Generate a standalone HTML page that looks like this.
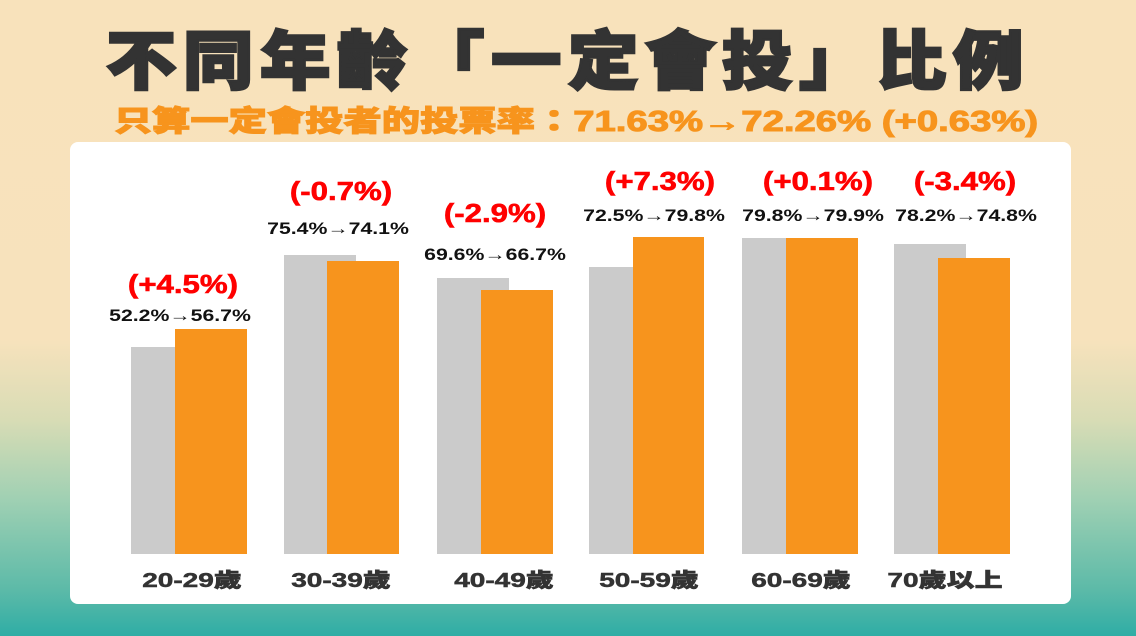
<!DOCTYPE html>
<html><head><meta charset="utf-8"><style>
*{margin:0;padding:0;box-sizing:border-box}
body{width:1136px;height:636px;overflow:hidden;position:relative;
background:linear-gradient(to bottom,#f8e2bb 0px,#f7e2bc 340px,#d8dcb5 420px,#9fd0b3 500px,#5cbaa8 590px,#2fada5 636px);
font-family:"Liberation Sans","Noto Sans CJK TC",sans-serif}
.t{position:absolute;white-space:nowrap;text-align:center;transform-origin:center}
.title{left:0;width:1136px;top:22px;font-size:64px;font-weight:900;color:#333;letter-spacing:6px;line-height:80px;-webkit-text-stroke:2.5px #333;transform:scaleX(1.1)}
.sub{left:0;width:1136px;top:104px;font-size:29px;font-weight:900;color:#f7941d;line-height:36px;-webkit-text-stroke:1px #f7941d;transform:translateX(8px) scaleX(1.32)}
.card{position:absolute;left:70px;top:142px;width:1001px;height:462px;background:#fff;border-radius:8px}
.b{position:absolute}
.g{background:#cbcbcb}.o{background:#f7941d}
.v{font-size:17px;font-weight:bold;color:#111;width:200px;transform:scaleX(1.25)}
.r{font-size:26px;font-weight:900;color:#f00;width:200px;transform:scaleX(1.2);-webkit-text-stroke:0.6px #f00}
.c{font-size:20px;font-weight:900;color:#333;width:200px;top:564px;transform:scaleX(1.4);-webkit-text-stroke:0.5px #333}
</style></head><body>
<div class="t title">不同年齡「一定會投」比例</div>
<div class="t sub">只算一定會投者的投票率：71.63%→72.26% (+0.63%)</div>
<div class="card"></div>

<div class="b g" style="left:131px;top:347px;width:72px;height:207px"></div>
<div class="b o" style="left:175px;top:329px;width:72px;height:225px"></div>
<div class="b g" style="left:284px;top:255px;width:72px;height:299px"></div>
<div class="b o" style="left:327px;top:261px;width:72px;height:293px"></div>
<div class="b g" style="left:437px;top:278px;width:72px;height:276px"></div>
<div class="b o" style="left:481px;top:290px;width:72px;height:264px"></div>
<div class="b g" style="left:589px;top:267px;width:72px;height:287px"></div>
<div class="b o" style="left:633px;top:237px;width:71px;height:317px"></div>
<div class="b g" style="left:742px;top:238px;width:72px;height:316px"></div>
<div class="b o" style="left:786px;top:238px;width:72px;height:316px"></div>
<div class="b g" style="left:894px;top:244px;width:72px;height:310px"></div>
<div class="b o" style="left:938px;top:258px;width:72px;height:296px"></div>

<div class="t r" style="left:83px;top:269px">(+4.5%)</div>
<div class="t v" style="left:80px;top:306px">52.2%→56.7%</div>
<div class="t r" style="left:241px;top:176px">(-0.7%)</div>
<div class="t v" style="left:238px;top:219px">75.4%→74.1%</div>
<div class="t r" style="left:395px;top:198px">(-2.9%)</div>
<div class="t v" style="left:395px;top:245px">69.6%→66.7%</div>
<div class="t r" style="left:560px;top:166px">(+7.3%)</div>
<div class="t v" style="left:554px;top:206px">72.5%→79.8%</div>
<div class="t r" style="left:718px;top:166px">(+0.1%)</div>
<div class="t v" style="left:713px;top:206px">79.8%→79.9%</div>
<div class="t r" style="left:865px;top:166px">(-3.4%)</div>
<div class="t v" style="left:866px;top:206px">78.2%→74.8%</div>

<div class="t c" style="left:92px">20-29歲</div>
<div class="t c" style="left:241px">30-39歲</div>
<div class="t c" style="left:404px">40-49歲</div>
<div class="t c" style="left:549px">50-59歲</div>
<div class="t c" style="left:701px">60-69歲</div>
<div class="t c" style="left:845px">70歲以上</div>
</body></html>
